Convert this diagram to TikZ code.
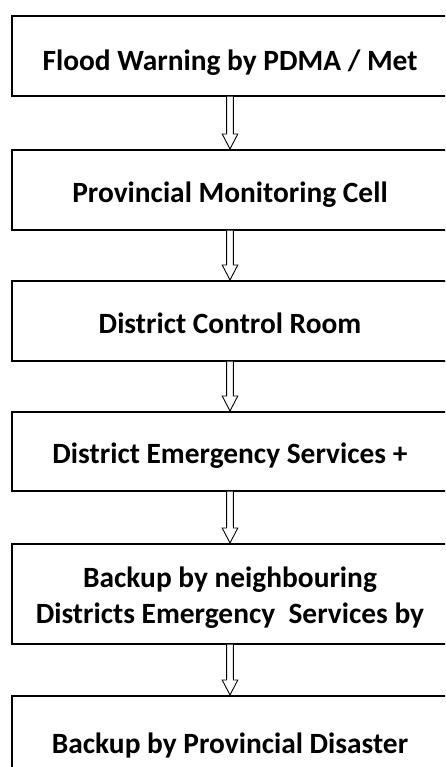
\documentclass[tikz,border=0pt]{standalone}
\usepackage{fontspec}
\setmainfont{Carlito}
\usetikzlibrary{calc}

\tikzset{
  stage/.style={draw=black, line width=1.6pt, rectangle, minimum width=436pt,
    inner sep=0pt, anchor=north},
  caption/.style={font=\bfseries\fontsize{29.4}{36}\selectfont, anchor=base,
    inner sep=0pt},
  hollow/.style={draw=black, line width=0.9pt, fill=white, line join=miter}
}

% hollow block arrow from the bottom of one box to the top of the next
\newcommand{\flowarrow}[2]{%
  \draw[hollow] ($(#1.south)+(-3.4,0)$) -- ($(#2.north)+(-3.4,-15)$)
    -- ($(#2.north)+(-7.8,-15)$) -- (#2.north) -- ($(#2.north)+(7.8,-15)$)
    -- ($(#2.north)+(3.4,-15)$) -- ($(#1.south)+(3.4,0)$);
}

\begin{document}
\begin{tikzpicture}[x=1pt, y=-1pt]
  \clip (0,0) rectangle (445,767);

  % stage boxes
  \node[stage, minimum height=80pt]  (warn)   at (230,15)  {};
  \node[stage, minimum height=80pt]  (cell)   at (230,149) {};
  \node[stage, minimum height=80pt]  (room)   at (230,280) {};
  \node[stage, minimum height=79pt]  (dist)   at (230,411) {};
  \node[stage, minimum height=100pt] (neigh)  at (230,543) {};
  \node[stage, minimum height=90pt]  (prov)   at (230,695) {};

  % box texts
  \node[caption] (twarn)   at ($(warn.north)+(0,56)$)  {Flood Warning by PDMA / Met};
  \node[caption] (tcell)   at ($(cell.north)+(0,54)$)  {Provincial Monitoring Cell};
  \node[caption] (troom)   at ($(room.north)+(0,53)$)  {District Control Room};
  \node[caption] (tdist)   at ($(dist.north)+(0,52)$)  {District Emergency Services +};
  \node[caption] (tneighA) at ($(neigh.north)+(0,44)$) {Backup by neighbouring};
  \node[caption] (tneighB) at ($(neigh.north)+(0,80)$) {Districts Emergency\ \ Services by};
  \node[caption] (tprov)   at ($(prov.north)+(0,58)$)  {Backup by Provincial Disaster};

  % connectors
  \flowarrow{warn}{cell}
  \flowarrow{cell}{room}
  \flowarrow{room}{dist}
  \flowarrow{dist}{neigh}
  \flowarrow{neigh}{prov}
\end{tikzpicture}
\end{document}
